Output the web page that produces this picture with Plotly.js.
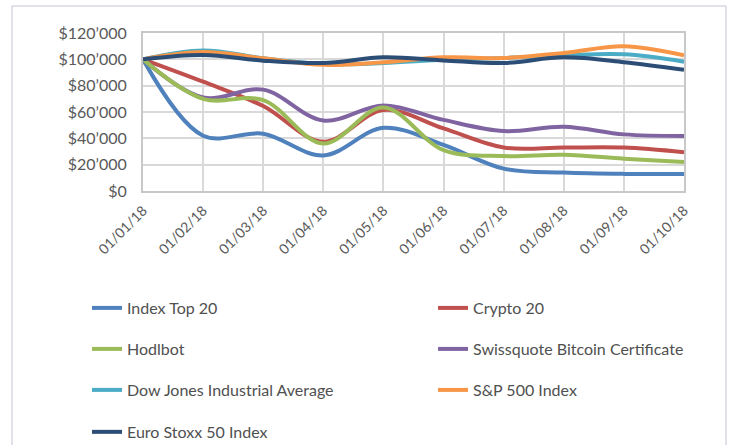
<!DOCTYPE html>
<html>
<head>
<meta charset="utf-8">
<script src="https://cdn.plot.ly/plotly-3.0.1.min.js"></script>
<style>html,body{margin:0;padding:0;background:#fff;}#chart{width:733px;height:445px;}</style>
</head>
<body>
<div id="chart"></div>
<script>
const dates = ["01/01/18","01/02/18","01/03/18","01/04/18","01/05/18","01/06/18","01/07/18","01/08/18","01/09/18","01/10/18"];
const indexTop20 = [100000, 42000, 43500, 27000, 48000, 35000, 17000, 14000, 13000, 13000];
const crypto20 = [100000, 83000, 64500, 37500, 61500, 47500, 33000, 33000, 33000, 29500];
const hodlbot = [100000, 70000, 69000, 36000, 63500, 31000, 26500, 27500, 24500, 22000];
const swissquote = [100000, 71000, 77000, 53500, 65000, 54000, 45500, 48800, 43000, 41800];
const dowJones = [100000, 106800, 100800, 96400, 97200, 99700, 101000, 103000, 103800, 98200];
const sp500 = [100000, 105500, 100800, 95800, 97800, 101500, 101000, 104800, 110000, 103000];
const euroStoxx = [100000, 103300, 99000, 97200, 101500, 99200, 97200, 101500, 97800, 92000];
const seriesNames = ["Index Top 20","Crypto 20","Hodlbot","Swissquote Bitcoin Certificate","Dow Jones Industrial Average","S&P 500 Index","Euro Stoxx 50 Index"];
const yTickVals = [0, 20000, 40000, 60000, 80000, 100000, 120000];
const yTickText = ["$0","$20\u2019000","$40\u2019000","$60\u2019000","$80\u2019000","$100\u2019000","$120\u2019000"];

const seriesData = [indexTop20, crypto20, hodlbot, swissquote, dowJones, sp500, euroStoxx];
const colors = ["#4F81BD","#C0504D","#9BBB59","#8064A2","#4BACC6","#F79646","#2C4D75"];
const drawOrder = [1, 0, 3, 2, 4, 5, 6];
const legendIds = ["legend","legend2","legend3","legend4","legend5","legend6","legend7"];

const traces = drawOrder.map(i => ({
  x: dates, y: seriesData[i], name: seriesNames[i], type: 'scatter', mode: 'lines',
  line: {color: colors[i], width: 4, shape: 'spline', smoothing: 1},
  legend: legendIds[i], hoverinfo: 'skip'
}));

const colX = [-0.1035, 0.5361];
const rowY = [-0.7405, -1.0, -1.2595, -1.525];
const legFont = {family: 'Lato, "Open Sans", sans-serif', size: 16, color: '#505050'};
const layout = {
  width: 733, height: 445,
  margin: {l: 143, r: 49, t: 33, b: 254, autoexpand: false},
  paper_bgcolor: '#ffffff', plot_bgcolor: '#ffffff',
  font: {family: 'Lato, "Open Sans", sans-serif', size: 14, color: '#595959'},
  showlegend: true,
  xaxis: {
    type: 'category', range: [0, 9], showgrid: true, gridcolor: '#D9D9D9', gridwidth: 2,
    showline: true, linecolor: '#C8C8C8', linewidth: 2, mirror: true,
    tickangle: -45, ticks: '', ticklabelstandoff: 4, tickfont: {size: 14, color: '#595959'}, fixedrange: true
  },
  yaxis: {
    range: [0, 120000], tickvals: yTickVals, ticktext: yTickText,
    showgrid: true, gridcolor: '#D9D9D9', gridwidth: 2, zeroline: false,
    showline: true, linecolor: '#C8C8C8', linewidth: 2, mirror: true,
    ticks: '', ticklabelstandoff: 11, tickfont: {size: 16, color: '#595959'}, fixedrange: true
  },
  shapes: [{type: 'rect', xref: 'paper', yref: 'paper', x0: -0.2421, x1: 1.0776, y0: -1.75, y1: 1.1709,
    line: {color: '#D9D9E3', width: 1.5}, fillcolor: 'rgba(0,0,0,0)', layer: 'below'}]
};
legendIds.forEach((id, i) => {
  layout[id] = {x: colX[i % 2], y: rowY[Math.floor(i / 2)], xanchor: 'left', yanchor: 'middle',
    font: legFont, bgcolor: 'rgba(0,0,0,0)', borderwidth: 0, itemclick: false, itemdoubleclick: false};
});
Plotly.newPlot('chart', traces, layout, {displayModeBar: false, staticPlot: true});
</script>
</body>
</html>
